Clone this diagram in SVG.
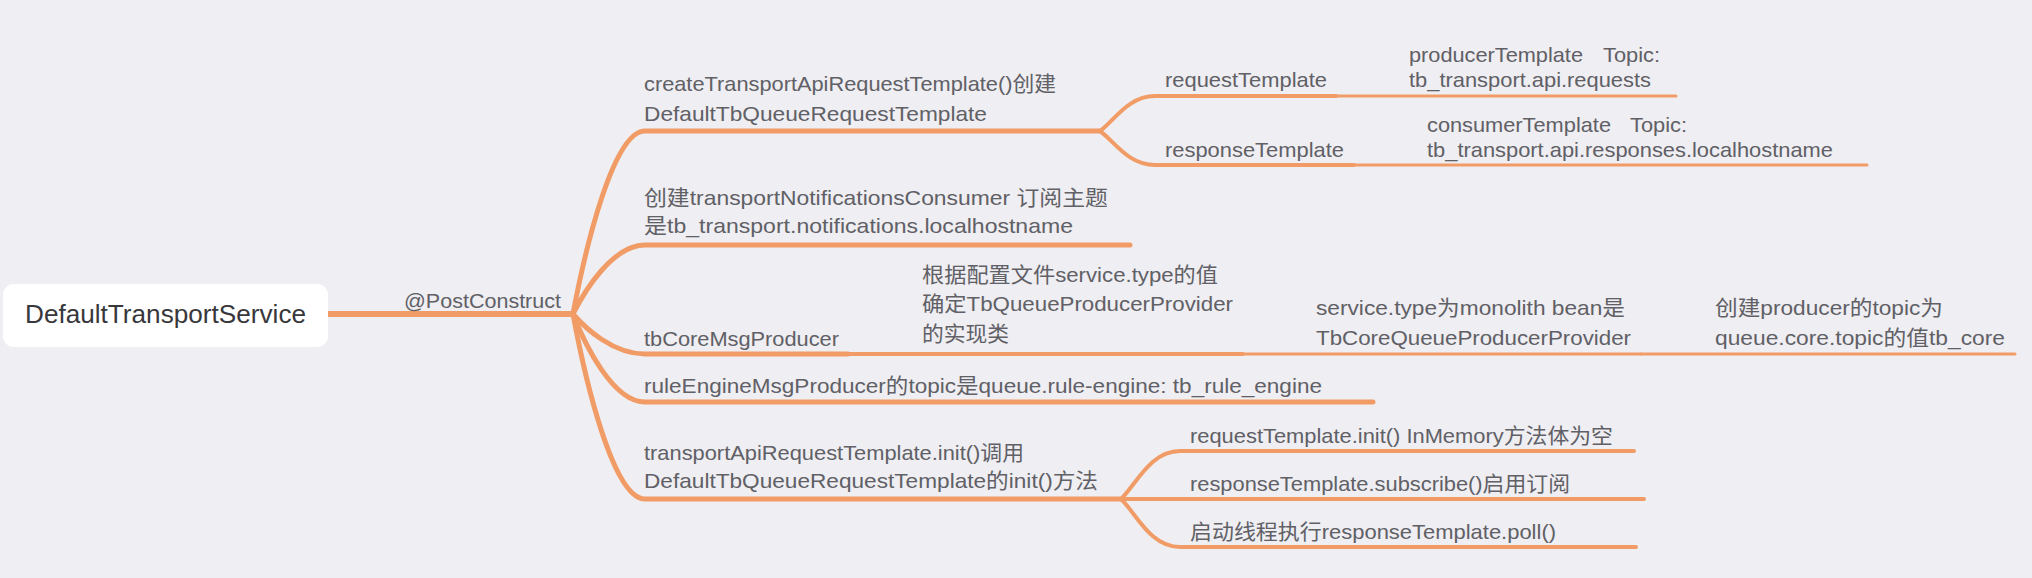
<svg xmlns="http://www.w3.org/2000/svg" width="2032" height="578" viewBox="0 0 2032 578">
<style>
.bg{fill:#EFEEF2}
.ln{fill:none;stroke:#F19C66;stroke-linecap:round;stroke-linejoin:round}
.w6{stroke-width:6}
.w5{stroke-width:5}
.w4{stroke-width:4}
.w3{stroke-width:3}
.t{font-family:"Liberation Sans","Noto Sans CJK SC",sans-serif;font-size:21px;fill:#606066}
.root{font-family:"Liberation Sans","Noto Sans CJK SC",sans-serif;font-size:26px;fill:#38383c}
</style>
<rect class="bg" x="0" y="0" width="2032" height="578"/>
<g id="connectors">
<path class="ln w6" d="M328,314 L573,314"/>
<path class="ln w5" d="M573,314 C585,250 613,131 645,131 L1100,131"/>
<path class="ln w5" d="M573,314 C585,290 613,245 645,245 L1130,245"/>
<path class="ln w5" d="M573,314 C585,328 613,354 645,354 L848,354"/>
<path class="ln w5" d="M573,314 C585,345 613,402 645,402 L1373,402"/>
<path class="ln w5" d="M573,314 C585,379 613,499 645,499 L1121,499"/>
<path class="ln w4" d="M1100,131 C1114,121 1128,96 1155,96 L1336,96"/>
<path class="ln w4" d="M1100,131 C1114,141 1128,165 1155,165 L1354,165"/>
<path class="ln w4" d="M848,354 L1243,354"/>
<path class="ln w4" d="M1121,499 C1136,485 1150,451 1180,451 L1634,451"/>
<path class="ln w4" d="M1121,499 L1644,499"/>
<path class="ln w4" d="M1121,499 C1136,513 1150,547 1180,547 L1636,547"/>
<path class="ln w3" d="M1336,96 L1676,96"/>
<path class="ln w3" d="M1354,165 L1867,165"/>
<path class="ln w3" d="M1243,354 L1641,354"/>
<path class="ln w3" d="M1641,354 L2015,354"/>
</g>
<g id="root">
<rect x="3" y="284" width="325" height="63" rx="11" fill="#FFFFFF"/>
<text class="root" x="25" y="323" textLength="281" lengthAdjust="spacingAndGlyphs">DefaultTransportService</text>
</g>
<g id="postconstruct">
<text class="t" x="404" y="308" textLength="157" lengthAdjust="spacingAndGlyphs">@PostConstruct</text>
</g>
<g id="createTemplate">
<text class="t" x="644" y="91" textLength="412" lengthAdjust="spacingAndGlyphs">createTransportApiRequestTemplate()创建</text>
<text class="t" x="644" y="121" textLength="343" lengthAdjust="spacingAndGlyphs">DefaultTbQueueRequestTemplate</text>
</g>
<g id="requestTemplate">
<text class="t" x="1165" y="87" textLength="162" lengthAdjust="spacingAndGlyphs">requestTemplate</text>
</g>
<g id="responseTemplate">
<text class="t" x="1165" y="157" textLength="179" lengthAdjust="spacingAndGlyphs">responseTemplate</text>
</g>
<g id="producerTemplate">
<text class="t" x="1409" y="62" textLength="174" lengthAdjust="spacingAndGlyphs">producerTemplate</text>
<text class="t" x="1603" y="62" textLength="57" lengthAdjust="spacingAndGlyphs">Topic:</text>
<text class="t" x="1409" y="87" textLength="242" lengthAdjust="spacingAndGlyphs">tb_transport.api.requests</text>
</g>
<g id="consumerTemplate">
<text class="t" x="1427" y="132" textLength="184" lengthAdjust="spacingAndGlyphs">consumerTemplate</text>
<text class="t" x="1630" y="132" textLength="57" lengthAdjust="spacingAndGlyphs">Topic:</text>
<text class="t" x="1427" y="157" textLength="406" lengthAdjust="spacingAndGlyphs">tb_transport.api.responses.localhostname</text>
</g>
<g id="notificationsConsumer">
<text class="t" x="644" y="205" textLength="464" lengthAdjust="spacingAndGlyphs">创建transportNotificationsConsumer 订阅主题</text>
<text class="t" x="644" y="233" textLength="429" lengthAdjust="spacingAndGlyphs">是tb_transport.notifications.localhostname</text>
</g>
<g id="tbCoreMsgProducer">
<text class="t" x="644" y="346" textLength="195" lengthAdjust="spacingAndGlyphs">tbCoreMsgProducer</text>
</g>
<g id="providerImpl">
<text class="t" x="922" y="282" textLength="296" lengthAdjust="spacingAndGlyphs">根据配置文件service.type的值</text>
<text class="t" x="922" y="311" textLength="311" lengthAdjust="spacingAndGlyphs">确定TbQueueProducerProvider</text>
<text class="t" x="922" y="341" textLength="87" lengthAdjust="spacingAndGlyphs">的实现类</text>
</g>
<g id="monolith">
<text class="t" x="1316" y="315" textLength="309" lengthAdjust="spacingAndGlyphs">service.type为monolith bean是</text>
<text class="t" x="1316" y="345" textLength="315" lengthAdjust="spacingAndGlyphs">TbCoreQueueProducerProvider</text>
</g>
<g id="coreTopic">
<text class="t" x="1715" y="315" textLength="228" lengthAdjust="spacingAndGlyphs">创建producer的topic为</text>
<text class="t" x="1715" y="345" textLength="290" lengthAdjust="spacingAndGlyphs">queue.core.topic的值tb_core</text>
</g>
<g id="ruleEngine">
<text class="t" x="644" y="393" textLength="678" lengthAdjust="spacingAndGlyphs">ruleEngineMsgProducer的topic是queue.rule-engine: tb_rule_engine</text>
</g>
<g id="templateInit">
<text class="t" x="644" y="460" textLength="380" lengthAdjust="spacingAndGlyphs">transportApiRequestTemplate.init()调用</text>
<text class="t" x="644" y="488" textLength="454" lengthAdjust="spacingAndGlyphs">DefaultTbQueueRequestTemplate的init()方法</text>
</g>
<g id="requestInit">
<text class="t" x="1190" y="443" textLength="423" lengthAdjust="spacingAndGlyphs">requestTemplate.init() InMemory方法体为空</text>
</g>
<g id="responseSubscribe">
<text class="t" x="1190" y="491" textLength="380" lengthAdjust="spacingAndGlyphs">responseTemplate.subscribe()启用订阅</text>
</g>
<g id="pollThread">
<text class="t" x="1190" y="539" textLength="366" lengthAdjust="spacingAndGlyphs">启动线程执行responseTemplate.poll()</text>
</g>
</svg>
